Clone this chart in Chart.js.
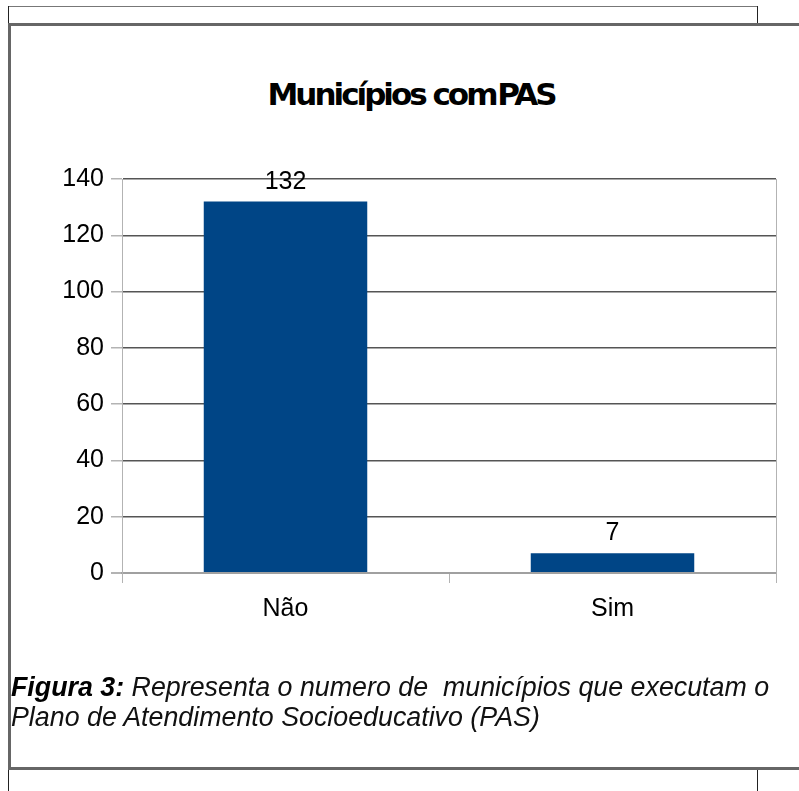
<!DOCTYPE html>
<html>
<head>
<meta charset="utf-8">
<script src="https://cdn.jsdelivr.net/npm/chart.js@4.4.1/dist/chart.umd.min.js"></script>
<style>
  html, body { margin: 0; padding: 0; background: #fff; }
  body { width: 799px; height: 791px; position: relative; overflow: hidden; }
  .ln { position: absolute; }
  #chart { position: absolute; left: 0; top: 0; }
  #title {
    position: absolute; left: 10px; width: 789px; top: 76px; text-align: center;
    font: bold 31px "DejaVu Sans"; letter-spacing: -3px; color: #000;
    padding-left: 13px; box-sizing: border-box; white-space: nowrap;
  }
  #title .sp { letter-spacing: -9px; }
  #caption {
    position: absolute; left: 11px; top: 672px; width: 788px; white-space: nowrap;
    font: italic 26.8px/30px "Liberation Sans"; color: #111;
  }
  #caption b { color: #000; }
</style>
</head>
<body>
<!-- moldura da pagina -->
<div class="ln" style="left:8px;top:6px;width:750px;height:0;border-top:1px solid #777"></div>
<div class="ln" style="left:8px;top:6px;width:0;height:18px;border-left:1px solid #222"></div>
<div class="ln" style="left:757px;top:6px;width:0;height:18px;border-left:1px solid #222"></div>
<div class="ln" style="left:8px;top:23px;width:791px;height:741px;border:3px solid #666;border-right:none"></div>
<div class="ln" style="left:8px;top:770px;width:0;height:21px;border-left:1px solid #222"></div>
<div class="ln" style="left:757px;top:770px;width:0;height:21px;border-left:1px solid #222"></div>

<div id="title">Municípios com<span class="sp"> </span>PAS</div>
<canvas id="chart" width="799" height="791"></canvas>
<div id="caption"><b>Figura 3:</b> Representa o numero de&nbsp; municípios que executam o<br>Plano de Atendimento Socioeducativo (PAS)</div>

<script>
const categories = ["Não", "Sim"];
const values = [132, 7];
const yTicks = [0, 20, 40, 60, 80, 100, 120, 140];

// rotulos de valor acima das barras
const valueLabels = {
  id: "valueLabels",
  afterDatasetsDraw(chart) {
    const ctx = chart.ctx;
    ctx.save();
    ctx.font = "25px 'Liberation Sans'";
    ctx.fillStyle = "#000";
    ctx.textAlign = "center";
    ctx.textBaseline = "alphabetic";
    chart.getDatasetMeta(0).data.forEach((bar, i) => {
      ctx.fillText(values[i], bar.x, bar.y - 13);
    });
    ctx.restore();
  }
};

const ctx = document.getElementById("chart").getContext("2d");
new Chart(ctx, {
  type: "bar",
  data: {
    labels: categories,
    datasets: [{ data: values, backgroundColor: "#004586", barPercentage: 0.5, categoryPercentage: 1 }]
  },
  options: {
    responsive: false,
    animation: false,
    layout: { padding: { left: 0, top: 179, right: 23, bottom: 158 } },
    plugins: { legend: { display: false }, tooltip: { enabled: false }, title: { display: false } },
    scales: {
      x: {
        afterFit: s => { s.height = 60; },
        border: { color: "#a0a0a0", width: 2 },
        grid: { offset: true, drawOnChartArea: false, tickLength: 10, tickColor: "#b3b3b3" },
        ticks: { color: "#000", font: { family: "Liberation Sans", size: 25 }, padding: 11 }
      },
      y: {
        min: 0, max: 140,
        afterFit: s => { s.width = 122; },
        afterBuildTicks: s => { s.ticks = yTicks.map(v => ({ value: v })); },
        border: { color: "#b3b3b3", width: 1 },
        grid: {
          color: c => c.tick.value === 0 ? "#a0a0a0" : "#555",
          lineWidth: c => c.tick.value === 0 ? 2 : 1.5,
          tickLength: 11, tickColor: "#b3b3b3"
        },
        ticks: { color: "#000", font: { family: "Liberation Sans", size: 25 }, padding: 7 }
      },
      y2: {
        position: "right",
        afterFit: s => { s.width = 0; },
        border: { color: "#b3b3b3", width: 1 },
        grid: { display: false },
        ticks: { display: false }
      }
    }
  },
  plugins: [valueLabels]
});
</script>
</body>
</html>
